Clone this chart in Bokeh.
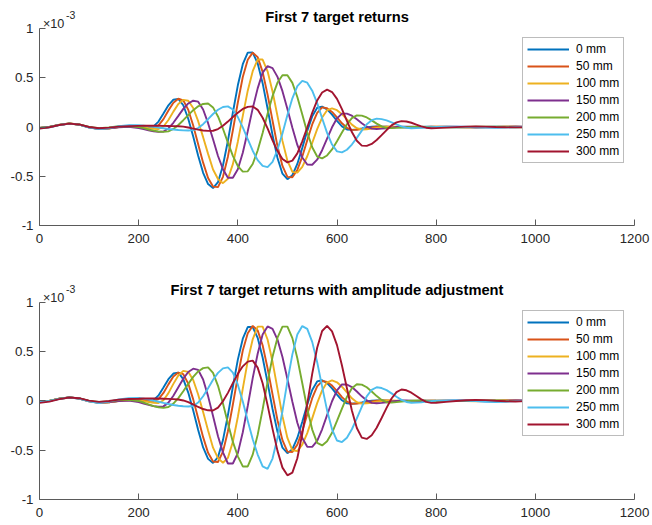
from bokeh.plotting import figure
from bokeh.models import Range1d, FixedTicker, Label, Legend, LegendItem
from bokeh.layouts import column
from bokeh.embed import file_html
from bokeh.resources import INLINE

# sample positions (samples 0..1000); denser through the echo region
x = list(range(0, 200, 20)) + list(range(200, 801, 10)) + list(range(820, 1001, 20))

labels = ["0 mm", "50 mm", "100 mm", "150 mm", "200 mm", "250 mm", "300 mm"]
colors = ["#0072BD", "#D95319", "#EDB120", "#7E2F8E", "#77AC30", "#4DBEEE", "#A2142F"]
x_ticks = [0, 200, 400, 600, 800, 1000, 1200]
y_ticks = [-1, -0.5, 0, 0.5, 1]
y_tick_labels = ["-1", "-0.5", "0", "0.5", "1"]

# ---- raw target returns (units of 1e-3) ----
top_0mm = [-0.01, 0.0, 0.022, 0.035, 0.024, -0.004, -0.02, -0.014, 0.001, 0.012,
           0.010, 0.005, 0.001, 0.006, 0.055, 0.136, 0.220, 0.277, 0.286, 0.221,
           0.084, -0.097, -0.291, -0.465, -0.579, -0.620, -0.560, -0.391, -0.140, 0.147,
           0.423, 0.638, 0.755, 0.756, 0.646, 0.445, 0.188, -0.082, -0.314, -0.474,
           -0.530, -0.489, -0.375, -0.212, -0.039, 0.108, 0.195, 0.207, 0.178, 0.125,
           0.062, 0.006, -0.025, -0.029, -0.024, -0.015, -0.005, 0.002, 0.005, 0.004,
           0.002, 0.0, -0.001, -0.002, -0.002, -0.001, 0.0, 0.001, 0.002, 0.002, 0.001,
           0.0, -0.002, -0.003, -0.002, 0.0, 0.002, 0.003, 0.002, 0.0, -0.001]
top_50mm = [-0.01, 0.0, 0.022, 0.035, 0.025, -0.003, -0.019, -0.014, 0.0, 0.009,
            0.010, 0.007, 0.002, 0.000, 0.017, 0.080, 0.167, 0.246, 0.287, 0.270,
            0.175, 0.015, -0.175, -0.362, -0.518, -0.605, -0.610, -0.506, -0.301, -0.033,
            0.249, 0.508, 0.683, 0.755, 0.709, 0.560, 0.329, 0.064, -0.195, -0.395,
            -0.506, -0.510, -0.436, -0.300, -0.135, 0.026, 0.144, 0.199, 0.190, 0.153,
            0.097, 0.038, -0.008, -0.029, -0.028, -0.022, -0.014, -0.005, 0.002, 0.004,
            0.003, 0.001, 0.0, -0.001, -0.002, -0.002, -0.001, 0.0, 0.001, 0.002, 0.002,
            0.001, -0.001, -0.003, -0.003, -0.001, 0.001, 0.003, 0.003, 0.001, -0.001]
top_100mm = [-0.01, 0.001, 0.023, 0.035, 0.024, -0.004, -0.02, -0.015, -0.001, 0.008,
             0.005, -0.003, -0.011, -0.018, -0.020, 0.005, 0.071, 0.156, 0.234, 0.276,
             0.267, 0.193, 0.059, -0.103, -0.273, -0.432, -0.528, -0.570, -0.525, -0.377,
             -0.149, 0.113, 0.369, 0.567, 0.685, 0.685, 0.565, 0.361, 0.110, -0.141,
             -0.342, -0.456, -0.463, -0.404, -0.297, -0.162, -0.021, 0.096, 0.171, 0.189,
             0.171, 0.130, 0.077, 0.024, -0.012, -0.025, -0.023, -0.017, -0.009, -0.001,
             0.004, 0.004, 0.002, 0.0, -0.001, -0.002, -0.002, -0.001, 0.0, 0.001, 0.002,
             0.002, 0.0, -0.003, -0.004, -0.002, 0.001, 0.003, 0.002, 0.0, -0.002]
top_150mm = [-0.01, 0.0, 0.021, 0.034, 0.024, -0.003, -0.018, -0.012, -0.003, 0.002,
             -0.011, -0.022, -0.034, -0.044, -0.049, -0.046, -0.015, 0.043, 0.113, 0.184,
             0.239, 0.267, 0.257, 0.178, 0.039, -0.125, -0.294, -0.428, -0.515, -0.515,
             -0.428, -0.261, -0.043, 0.189, 0.392, 0.552, 0.618, 0.598, 0.509, 0.364,
             0.182, -0.007, -0.182, -0.309, -0.381, -0.383, -0.332, -0.236, -0.119, -0.003,
             0.088, 0.136, 0.136, 0.115, 0.078, 0.038, 0.003, -0.017, -0.020, -0.017,
             -0.012, -0.006, 0.0, 0.003, 0.003, 0.002, 0.0, -0.002, -0.003, -0.002, 0.0,
             0.002, 0.003, 0.001, -0.002, -0.004, -0.003, 0.0, 0.003, 0.003, 0.001]
top_200mm = [-0.01, 0.0, 0.022, 0.034, 0.025, 0.0, -0.012, -0.005, 0.008, 0.010,
             -0.001, -0.012, -0.025, -0.037, -0.046, -0.050, -0.044, -0.020, 0.020, 0.069,
             0.121, 0.171, 0.210, 0.234, 0.239, 0.199, 0.107, -0.018, -0.159, -0.293,
             -0.396, -0.453, -0.450, -0.376, -0.239, -0.060, 0.135, 0.314, 0.451, 0.525,
             0.525, 0.448, 0.304, 0.126, -0.056, -0.205, -0.300, -0.318, -0.289, -0.228,
             -0.144, -0.055, 0.028, 0.090, 0.118, 0.116, 0.097, 0.067, 0.034, 0.006,
             -0.010, -0.011, -0.009, -0.005, -0.002, 0.001, 0.002, 0.002, 0.001, 0.0, -0.001,
             -0.002, -0.002, 0.0, 0.002, 0.003, 0.002, 0.0, -0.002, -0.002, 0.0]
top_250mm = [-0.012, -0.002, 0.02, 0.034, 0.024, -0.005, -0.022, -0.012, 0.008, 0.018,
             0.018, 0.014, 0.008, 0.002, -0.006, -0.013, -0.020, -0.026, -0.031, -0.034,
             -0.035, -0.032, -0.011, 0.029, 0.079, 0.132, 0.175, 0.203, 0.209, 0.177,
             0.101, -0.004, -0.124, -0.241, -0.336, -0.395, -0.408, -0.355, -0.231, -0.065,
             0.122, 0.291, 0.415, 0.468, 0.450, 0.369, 0.242, 0.089, -0.060, -0.178,
             -0.248, -0.258, -0.231, -0.178, -0.110, -0.037, 0.028, 0.069, 0.085, 0.080,
             0.067, 0.047, 0.026, 0.006, -0.007, -0.012, -0.011, -0.009, -0.005, -0.002, 0.001,
             0.003, 0.004, 0.002, -0.002, -0.006, -0.008, -0.006, -0.002, 0.002, 0.004]
top_300mm = [-0.015, -0.003, 0.02, 0.034, 0.026, 0.0, -0.012, -0.006, 0.004, 0.009,
             0.011, 0.012, 0.012, 0.012, 0.012, 0.011, 0.010, 0.009, 0.008, 0.004,
             -0.005, -0.016, -0.026, -0.035, -0.039, -0.038, -0.021, 0.012, 0.055, 0.102,
             0.145, 0.183, 0.204, 0.209, 0.174, 0.094, -0.013, -0.135, -0.244, -0.324,
             -0.359, -0.341, -0.268, -0.145, -0.005, 0.143, 0.270, 0.350, 0.380, 0.355,
             0.285, 0.182, 0.063, -0.051, -0.140, -0.189, -0.192, -0.172, -0.132, -0.083,
             -0.031, 0.017, 0.047, 0.060, 0.056, 0.043, 0.025, 0.007, -0.007, -0.012, -0.011,
             -0.006, -0.001, 0.004, 0.006, 0.004, 0.0, -0.003, -0.004, -0.002, 0.0]

# ---- returns after amplitude adjustment (units of 1e-3) ----
adj_0mm = [-0.01, 0.0, 0.022, 0.035, 0.024, -0.004, -0.02, -0.014, 0.001, 0.012,
           0.010, 0.005, 0.001, 0.006, 0.055, 0.136, 0.220, 0.277, 0.286, 0.221,
           0.084, -0.098, -0.295, -0.472, -0.588, -0.630, -0.570, -0.398, -0.145, 0.143,
           0.418, 0.630, 0.748, 0.748, 0.639, 0.440, 0.185, -0.083, -0.314, -0.474,
           -0.530, -0.490, -0.376, -0.212, -0.037, 0.110, 0.197, 0.209, 0.180, 0.127,
           0.063, 0.006, -0.025, -0.029, -0.024, -0.015, -0.005, 0.002, 0.005, 0.004,
           0.002, 0.0, -0.001, -0.002, -0.002, -0.001, 0.0, 0.001, 0.002, 0.002, 0.001,
           0.0, -0.002, -0.003, -0.002, 0.0, 0.002, 0.003, 0.002, 0.0, -0.001]
adj_50mm = [-0.01, 0.0, 0.022, 0.035, 0.025, -0.003, -0.019, -0.014, 0.0, 0.009,
            0.010, 0.007, 0.002, 0.000, 0.017, 0.080, 0.167, 0.246, 0.287, 0.270,
            0.175, 0.015, -0.177, -0.368, -0.527, -0.615, -0.620, -0.515, -0.308, -0.037,
            0.248, 0.510, 0.686, 0.760, 0.714, 0.564, 0.331, 0.066, -0.197, -0.399,
            -0.515, -0.519, -0.444, -0.306, -0.138, 0.027, 0.146, 0.201, 0.192, 0.155,
            0.098, 0.038, -0.008, -0.029, -0.028, -0.022, -0.014, -0.005, 0.002, 0.004,
            0.003, 0.001, 0.0, -0.001, -0.002, -0.002, -0.001, 0.0, 0.001, 0.002, 0.002,
            0.001, -0.001, -0.003, -0.003, -0.001, 0.001, 0.003, 0.003, 0.001, -0.001]
adj_100mm = [-0.01, 0.001, 0.023, 0.035, 0.024, -0.004, -0.02, -0.015, -0.001, 0.008,
             0.005, -0.003, -0.012, -0.019, -0.022, 0.006, 0.078, 0.172, 0.257, 0.304,
             0.294, 0.212, 0.065, -0.113, -0.300, -0.475, -0.581, -0.627, -0.578, -0.415,
             -0.164, 0.124, 0.406, 0.624, 0.752, 0.752, 0.622, 0.397, 0.121, -0.155,
             -0.376, -0.502, -0.509, -0.444, -0.327, -0.178, -0.023, 0.106, 0.188, 0.208,
             0.188, 0.143, 0.085, 0.026, -0.013, -0.028, -0.025, -0.019, -0.009, -0.001,
             0.004, 0.004, 0.002, 0.0, -0.001, -0.002, -0.002, -0.001, 0.0, 0.001, 0.002,
             0.002, 0.0, -0.003, -0.004, -0.002, 0.001, 0.003, 0.002, 0.0, -0.002]
adj_150mm = [-0.01, 0.0, 0.021, 0.034, 0.024, -0.003, -0.018, -0.012, -0.003, 0.002,
             -0.013, -0.027, -0.041, -0.054, -0.060, -0.056, -0.018, 0.052, 0.138, 0.224,
             0.292, 0.326, 0.314, 0.217, 0.048, -0.153, -0.359, -0.522, -0.635, -0.635,
             -0.530, -0.318, -0.052, 0.231, 0.478, 0.673, 0.754, 0.730, 0.621, 0.444,
             0.222, -0.009, -0.222, -0.377, -0.465, -0.467, -0.405, -0.288, -0.145, -0.004,
             0.107, 0.166, 0.166, 0.140, 0.095, 0.046, 0.004, -0.021, -0.024, -0.020,
             -0.014, -0.007, 0.0, 0.003, 0.004, 0.002, 0.0, -0.002, -0.003, -0.002, 0.0,
             0.002, 0.004, 0.001, -0.002, -0.005, -0.004, 0.0, 0.004, 0.004, 0.001]
adj_200mm = [-0.01, 0.0, 0.022, 0.034, 0.025, 0.0, -0.012, -0.005, 0.008, 0.010,
             -0.001, -0.017, -0.036, -0.053, -0.065, -0.071, -0.062, -0.028, 0.028, 0.098,
             0.172, 0.243, 0.298, 0.332, 0.339, 0.283, 0.152, -0.026, -0.226, -0.416,
             -0.562, -0.665, -0.665, -0.545, -0.345, -0.088, 0.192, 0.446, 0.640, 0.752,
             0.752, 0.636, 0.432, 0.179, -0.080, -0.291, -0.426, -0.452, -0.410, -0.324,
             -0.204, -0.078, 0.040, 0.128, 0.168, 0.165, 0.138, 0.095, 0.048, 0.009,
             -0.014, -0.016, -0.013, -0.007, -0.003, 0.001, 0.003, 0.003, 0.001, 0.0, -0.001,
             -0.003, -0.003, 0.0, 0.003, 0.004, 0.003, 0.0, -0.003, -0.003, 0.0]
adj_250mm = [-0.012, -0.002, 0.02, 0.034, 0.024, -0.005, -0.022, -0.008, 0.015, 0.028,
             0.029, 0.023, 0.014, 0.003, -0.009, -0.021, -0.032, -0.042, -0.050, -0.055,
             -0.057, -0.052, -0.017, 0.047, 0.128, 0.214, 0.284, 0.329, 0.339, 0.287,
             0.164, -0.006, -0.201, -0.390, -0.544, -0.665, -0.690, -0.585, -0.374, -0.105,
             0.198, 0.471, 0.672, 0.758, 0.729, 0.598, 0.392, 0.144, -0.097, -0.288,
             -0.402, -0.418, -0.374, -0.288, -0.178, -0.060, 0.045, 0.112, 0.138, 0.130,
             0.109, 0.076, 0.042, 0.010, -0.011, -0.019, -0.018, -0.015, -0.008, -0.003, 0.002,
             0.004, 0.006, 0.003, -0.003, -0.009, -0.012, -0.009, -0.003, 0.003, 0.006]
adj_300mm = [-0.02, -0.008, 0.018, 0.034, 0.027, 0.002, -0.01, -0.002, 0.012, 0.019,
             0.022, 0.024, 0.024, 0.024, 0.024, 0.022, 0.020, 0.018, 0.014, 0.004,
             -0.012, -0.036, -0.062, -0.083, -0.096, -0.098, -0.068, -0.004, 0.081, 0.180,
             0.274, 0.350, 0.398, 0.408, 0.337, 0.178, -0.043, -0.284, -0.507, -0.677,
             -0.755, -0.728, -0.582, -0.334, -0.030, 0.274, 0.538, 0.708, 0.760, 0.704,
             0.565, 0.358, 0.128, -0.097, -0.275, -0.373, -0.386, -0.348, -0.273, -0.174,
             -0.071, 0.024, 0.089, 0.115, 0.107, 0.083, 0.049, 0.015, -0.011, -0.020, -0.019,
             -0.010, -0.002, 0.006, 0.010, 0.007, 0.001, -0.004, -0.006, -0.003, 0.0]

top_series = [top_0mm, top_50mm, top_100mm, top_150mm, top_200mm, top_250mm, top_300mm]
adj_series = [adj_0mm, adj_50mm, adj_100mm, adj_150mm, adj_200mm, adj_250mm, adj_300mm]

FONT = "Liberation Sans"
TEXT = "#262626"
AXIS = "#5a5a5a"
W = 652


def panel(series, title, height, y_top, border_bottom, legend_y):
    # the frame reaches the top of the figure so the heading texts sit inside it;
    # the y axis itself is bounded to [-1, 1]
    p = figure(width=W, height=height, output_backend="svg", toolbar_location=None,
               title_location=None,
               x_range=Range1d(0, 1200), y_range=Range1d(-1, y_top),
               min_border_left=39, min_border_right=18,
               min_border_top=0, min_border_bottom=border_bottom)
    p.outline_line_color = None
    p.grid.visible = False
    p.background_fill_color = "white"
    p.border_fill_color = "white"

    renderers = []
    for ys, c in zip(series, colors):
        renderers.append(p.line(x, ys, line_color=c, line_width=1.9))

    for ax in (p.xaxis[0], p.yaxis[0]):
        ax.axis_line_color = AXIS
        ax.axis_line_width = 1
        ax.major_tick_line_color = AXIS
        ax.major_tick_in = 6
        ax.major_tick_out = 0
        ax.minor_tick_line_color = None
        ax.major_label_text_font = FONT
        ax.major_label_text_font_size = "13.3px"
        ax.major_label_text_color = TEXT
    p.xaxis.ticker = FixedTicker(ticks=x_ticks)
    p.xaxis.major_label_standoff = 8
    p.yaxis.ticker = FixedTicker(ticks=y_ticks)
    p.yaxis.bounds = (-1, 1)
    p.yaxis.major_label_overrides = {t: s for t, s in zip(y_ticks, y_tick_labels)}
    p.yaxis.major_label_standoff = 6

    p.add_layout(Label(x=600, y=1, x_units="data", y_units="data", y_offset=12,
                       text=title, text_align="center", text_baseline="alphabetic",
                       text_font=FONT, text_font_style="bold", text_font_size="14.7px",
                       text_color="black"))
    p.add_layout(Label(x=0, y=1, x_offset=3.5, y_offset=4.5, text="\u00d710",
                       text_align="left", text_baseline="alphabetic",
                       text_font=FONT, text_font_size="12.6px", text_color=TEXT))
    p.add_layout(Label(x=0, y=1, x_offset=26.4, y_offset=13.5, text="-3",
                       text_align="left", text_baseline="alphabetic",
                       text_font=FONT, text_font_size="10.5px", text_color=TEXT))

    legend = Legend(items=[LegendItem(label=l, renderers=[r]) for l, r in zip(labels, renderers)],
                    location=(483, legend_y), orientation="vertical",
                    label_text_font=FONT, label_text_font_size="12px", label_text_color="black",
                    glyph_width=42, glyph_height=14, label_height=14, label_standoff=7,
                    spacing=3, padding=4, margin=0,
                    border_line_color="#7a7a7a", border_line_width=1,
                    background_fill_color="white", background_fill_alpha=1.0)
    p.add_layout(legend, "center")
    return p


# top panel: frame 225 px tall, y = 1 lands 28 px below its top edge
p1 = panel(top_series, "First 7 target returns", 262, 1.2843, 37, 62)
# bottom panel: frame 237 px tall, y = 1 lands 40 px below its top edge
p2 = panel(adj_series, "First 7 target returns with amplitude adjustment", 263, 1.4025, 26, 63)

layout = column(p1, p2, spacing=0)
open("out.html", "w").write(file_html(layout, INLINE))
